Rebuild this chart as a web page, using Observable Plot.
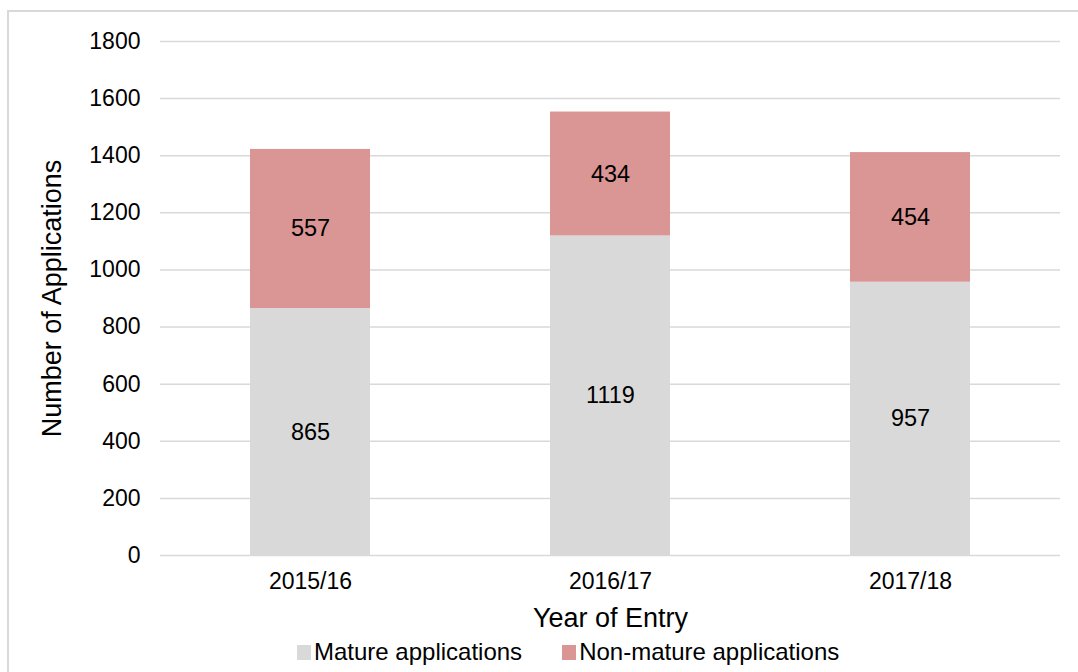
<!DOCTYPE html>
<html>
<head>
<meta charset="utf-8">
<script src="https://cdn.jsdelivr.net/npm/d3@7"></script>
<script src="https://cdn.jsdelivr.net/npm/@observablehq/plot@0.6"></script>
<style>
  body { margin: 0; background: #fff; font-family: "Liberation Sans", Arial, sans-serif; }
  #wrap { position: relative; width: 1078px; height: 672px; overflow: hidden; }
  #frame { position: absolute; left: 7px; top: 10px; width: 1080px; height: 680px; border: 2px solid #d9d9d9; box-sizing: border-box; }
  #chart { position: absolute; left: 0; top: 0; }
  #legend { position: absolute; left: 297px; top: 637px; display: flex; gap: 40px; font-size: 24px; line-height: 30px; color: #000; }
  .item { display: flex; align-items: center; }
  .sw { width: 14px; height: 15px; margin-right: 3px; display: inline-block; }
</style>
</head>
<body>
<div id="wrap">
  <div id="frame"></div>
  <div id="chart"></div>
  <div id="legend"></div>
</div>
<script>
const years = ["2015/16", "2016/17", "2017/18"];
const seriesNames = ["Mature applications", "Non-mature applications"];
const mature = [865, 1119, 957];
const nonMature = [557, 434, 454];
const colors = ["#d9d9d9", "#da9694"];
const yTicks = [0, 200, 400, 600, 800, 1000, 1200, 1400, 1600, 1800];

const data = [];
years.forEach((yr, i) => {
  data.push({year: yr, series: seriesNames[0], value: mature[i]});
  data.push({year: yr, series: seriesNames[1], value: nonMature[i]});
});

const plot = Plot.plot({
  width: 1078,
  height: 672,
  marginLeft: 160,
  marginRight: 18,
  marginTop: 41,
  marginBottom: 117,
  style: { fontFamily: "'Liberation Sans', Arial, sans-serif", fontSize: "23px", color: "#000", background: "transparent" },
  x: { domain: years, paddingInner: 0.6, paddingOuter: 0.3, label: null },
  y: { domain: [0, 1800], ticks: yTicks, label: null },
  color: { domain: seriesNames, range: colors },
  marks: [
    Plot.gridY(yTicks, { stroke: "#d9d9d9", strokeOpacity: 1, strokeWidth: 1.5 }),
    Plot.barY(data, { x: "year", y: "value", fill: "series", order: seriesNames }),
    Plot.text(data, Plot.stackY({ x: "year", y: "value", z: "series", order: seriesNames, text: d => String(d.value), fontSize: 23.5, fill: "#000" })),
    Plot.axisY(yTicks, { tickSize: 0, tickPadding: 20, fontSize: 23, label: null, tickFormat: d => String(d) }),
    Plot.axisX({ tickSize: 0, tickPadding: 17, fontSize: 23, label: null }),
    Plot.text(["Year of Entry"], { frameAnchor: "bottom", lineAnchor: "middle", dy: 63, text: d => d, fontSize: 27, fill: "#000" }),
    Plot.text(["Number of Applications"], { frameAnchor: "left", textAnchor: "middle", lineAnchor: "middle", dx: -108, rotate: -90, text: d => d, fontSize: 27, fill: "#000" })
  ]
});
document.getElementById("chart").appendChild(plot);

const legend = document.getElementById("legend");
seriesNames.forEach((name, i) => {
  const item = document.createElement("div");
  item.className = "item";
  const sw = document.createElement("span");
  sw.className = "sw";
  sw.style.background = colors[i];
  item.appendChild(sw);
  item.appendChild(document.createTextNode(name));
  legend.appendChild(item);
});
</script>
</body>
</html>
